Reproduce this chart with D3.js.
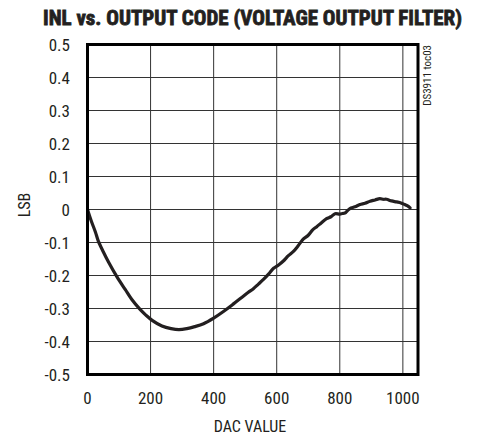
<!DOCTYPE html>
<html>
<head>
<meta charset="utf-8">
<script src="https://cdn.jsdelivr.net/npm/d3@7"></script>
<style>
  html, body { margin: 0; padding: 0; background: #fff; }
  svg { display: block; }
  text { font-family: "Liberation Sans Narrow", "Roboto Condensed", "DejaVu Sans Condensed", "Liberation Sans", sans-serif; fill: #231f20; }
</style>
</head>
<body>
<svg id="chart" width="480" height="439"></svg>
<script>
const chartTitle = "INL vs. OUTPUT CODE (VOLTAGE OUTPUT FILTER)";
const xLabel = "DAC VALUE";
const yLabel = "LSB";
const figId = "DS3911 toc03";
const xTicks = [0, 200, 400, 600, 800, 1000];
const yTicks = [0.5, 0.4, 0.3, 0.2, 0.1, 0, -0.1, -0.2, -0.3, -0.4, -0.5];
const yTickLabels = ["0.5", "0.4", "0.3", "0.2", "0.1", "0", "-0.1", "-0.2", "-0.3", "-0.4", "-0.5"];

const dacCodes = [0, 12, 25, 34, 50, 67, 94, 120, 140, 166, 185, 205, 236, 265, 290, 315, 340, 368,
  400, 431, 463, 495, 510, 526, 542, 558, 574, 590, 606, 621, 637, 653, 668, 684, 700, 714, 727, 742,
  758, 772, 785, 800, 808, 816, 824, 832, 848, 864, 880, 896, 912, 927, 938, 948, 964, 980, 994, 1006, 1015, 1023];
const inlValues = [0.000, -0.035, -0.068, -0.095, -0.128, -0.160, -0.205, -0.243, -0.272, -0.302, -0.320, -0.336, -0.353, -0.361, -0.364, -0.361, -0.355, -0.346,
  -0.329, -0.309, -0.286, -0.262, -0.251, -0.240, -0.226, -0.212, -0.196, -0.178, -0.168, -0.156, -0.140, -0.127, -0.110, -0.090, -0.078, -0.062, -0.052, -0.040,
  -0.028, -0.022, -0.013, -0.014, -0.012, -0.011, -0.004, 0.003, 0.008, 0.015, 0.019, 0.025, 0.029, 0.033, 0.031, 0.031, 0.026, 0.023, 0.020, 0.015, 0.011, 0.005];

const svg = d3.select("#chart");
const x = d3.scaleLinear().domain([0, 1048]).range([87.5, 418]);
const y = d3.scaleLinear().domain([-0.5, 0.5]).range([374.5, 44.5]);

// grid
svg.append("g").selectAll("line.vg").data(xTicks.slice(1)).join("line")
  .attr("x1", d => x(d)).attr("x2", d => x(d))
  .attr("y1", y(0.5)).attr("y2", y(-0.5))
  .attr("stroke", "#333").attr("stroke-width", 1);
svg.append("g").selectAll("line.hg").data(yTicks.slice(1, -1)).join("line")
  .attr("x1", x(0)).attr("x2", x(1048))
  .attr("y1", d => y(d)).attr("y2", d => y(d))
  .attr("stroke", "#333").attr("stroke-width", 1);

// curve
const pts = dacCodes.map((d, i) => [d, inlValues[i]]);
svg.append("path").datum(pts)
  .attr("d", d3.line().x(d => x(d[0])).y(d => y(d[1])).curve(d3.curveCatmullRom))
  .attr("fill", "none").attr("stroke", "#231f20").attr("stroke-width", 3.2)
  .attr("stroke-linejoin", "round").attr("stroke-linecap", "round");

// frame
svg.append("rect")
  .attr("x", x(0)).attr("y", y(0.5))
  .attr("width", x(1048) - x(0)).attr("height", y(-0.5) - y(0.5))
  .attr("fill", "none").attr("stroke", "#000").attr("stroke-width", 3);

// y tick labels
svg.append("g").selectAll("text").data(yTicks).join("text")
  .attr("x", 70).attr("y", d => y(d))
  .attr("dy", "0.36em").attr("text-anchor", "end")
  .attr("font-size", 17)
  .text((d, i) => yTickLabels[i]);

// x tick labels
svg.append("g").selectAll("text").data(xTicks).join("text")
  .attr("x", d => x(d)).attr("y", 404)
  .attr("text-anchor", "middle").attr("font-size", 17)
  .text(d => d);

// axis titles
svg.append("text").attr("x", 250).attr("y", 432).attr("text-anchor", "middle")
  .attr("font-size", 16).text(xLabel);
svg.append("text").attr("transform", "translate(30,205) rotate(-90)")
  .attr("text-anchor", "middle").attr("font-size", 16).text(yLabel);

// title
svg.append("text").attr("x", 43).attr("y", 25)
  .attr("font-size", 21).attr("font-weight", "bold")
  .attr("stroke", "#231f20").attr("stroke-width", 0.8)
  .attr("textLength", 419).attr("lengthAdjust", "spacingAndGlyphs")
  .text(chartTitle);

// figure id
svg.append("text").attr("transform", "translate(431,45) rotate(-90)")
  .attr("text-anchor", "end").attr("font-size", 11).text(figId);
</script>
</body>
</html>
